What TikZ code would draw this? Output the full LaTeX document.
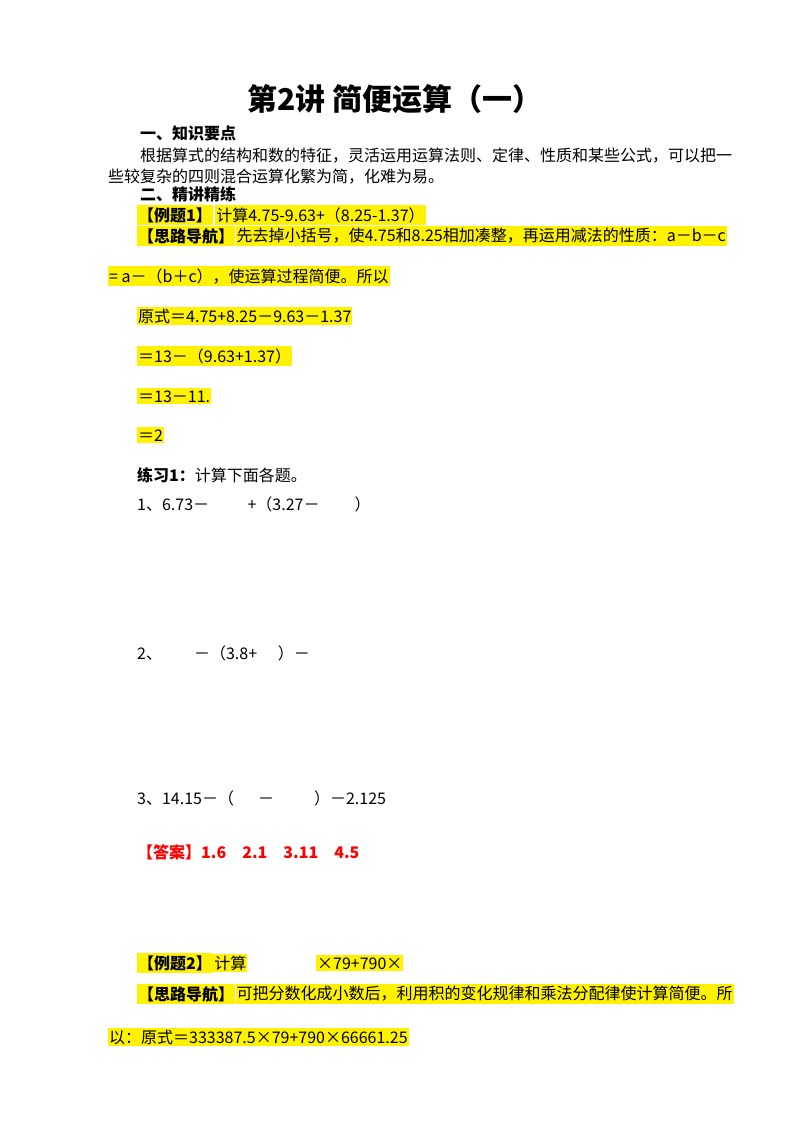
\documentclass[tikz,border=0pt]{standalone}
\usepackage{fontspec}
\setmainfont{Noto Sans CJK SC}
\usetikzlibrary{positioning}
\begin{document}
\begin{tikzpicture}[x=1pt, y=-1pt,
  every node/.style={anchor=base west, inner sep=0pt, font=\fontsize{16}{18}\selectfont},
  hl/.style={fill=yellow, inner xsep=1pt, inner ysep=2pt},
  hd/.style={font=\fontsize{16}{18}\selectfont\bfseries}]
        \useasboundingbox[fill=white] (0,0) rectangle (800,1132);
        \node[anchor=base, font=\fontsize{30}{32}\selectfont\bfseries] (title) at (395,110) {第2讲\ 简便运算（一）};
        \node[hd] (sec1) at (140,139) {一、知识要点};
        \node (p1) at (140,161) {根据算式的结构和数的特征，灵活运用运算法则、定律、性质和某些公式，可以把一};
        \node (p2) at (108,182) {些较复杂的四则混合运算化繁为简，化难为易。};
        \node[hd] (sec2) at (140,200) {二、精讲精练};
        \node[hl, font=\fontsize{16}{18}\selectfont\bfseries] (ex1) at (137,221) {【例题1】};
        \node[hl, right=2pt of ex1.east, anchor=west] (ex1q) {计算4.75-9.63+（8.25-1.37）};
        \node[hl, font=\fontsize{16}{18}\selectfont\bfseries] (tip1) at (137,242) {【思路导航】};
        \node[hl, right=0pt of tip1.east, anchor=west] (tip1t) {先去掉小括号，使4.75和8.25相加凑整，再运用减法的性质：a－b－c};
        \node[hl] (tip1b) at (108,282) {= a－（b＋c），使运算过程简便。所以};
        \node[hl] (s1) at (137,322) {原式＝4.75+8.25－9.63－1.37};
        \node[hl] (s2) at (137,362) {＝13－（9.63+1.37）};
        \node[hl] (s3) at (137,402) {＝13－11.};
        \node[hl] (s4) at (137,441) {＝2};
        \node (pr) at (137,481) {\textbf{练习1：}计算下面各题。};
        \node (q1) at (137,510) {1、6.73－\hspace{2.4em}+（3.27－\hspace{2.2em}）};
        \node (q2) at (137,659) {2、\hspace{2em}－（3.8+\hspace{1.3em}）－};
        \node (q3) at (137,804) {3、14.15－（\hspace{1.5em}－\hspace{2.5em}）－2.125};
        \node[text=red, font=\fontsize{16}{18}\selectfont\bfseries] (ans) at (137,858) {【答案】1.6\quad 2.1\quad 3.11\quad 4.5};
        \node[hl, font=\fontsize{16}{18}\selectfont\bfseries] (ex2) at (137,969) {【例题2】};
        \node[hl, right=0pt of ex2.east, anchor=west] (ex2q) {计算};
        \node[hl] (ex2r) at (316,969) {×79+790×};
        \node[hl, font=\fontsize{16}{18}\selectfont\bfseries] (tip2) at (137,1000) {【思路导航】};
        \node[hl, right=0pt of tip2.east, anchor=west] (tip2t) {可把分数化成小数后，利用积的变化规律和乘法分配律使计算简便。所};
        \node[hl] (tip2b) at (108,1043) {以：原式＝333387.5×79+790×66661.25};
\end{tikzpicture}
\end{document}
